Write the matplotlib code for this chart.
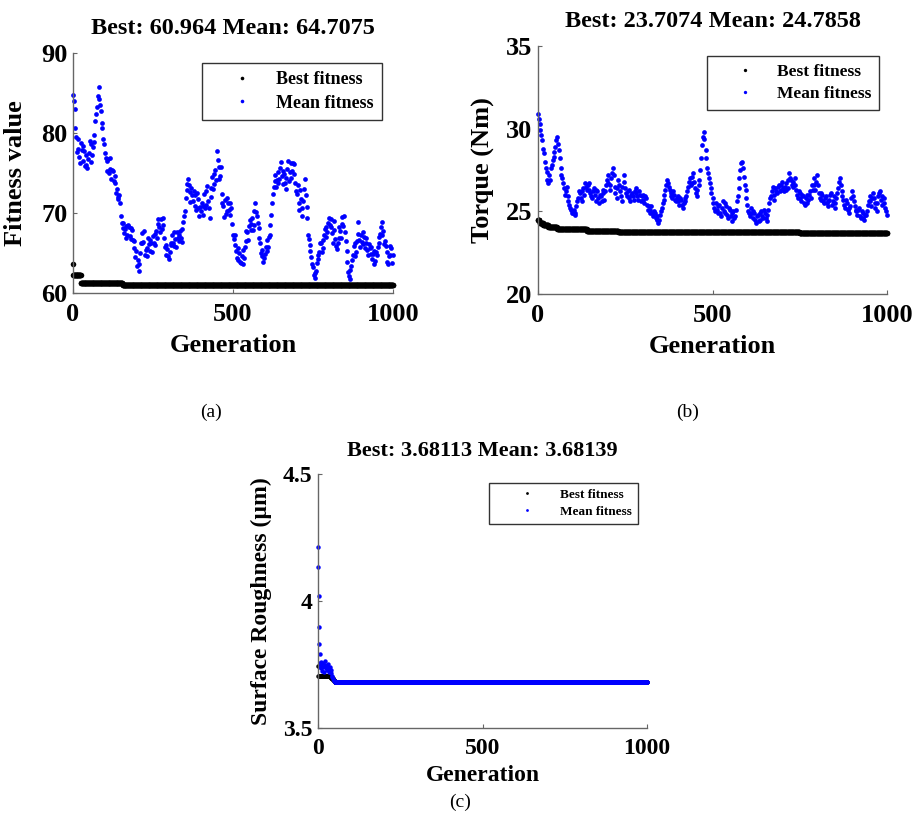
import numpy as np
import matplotlib
matplotlib.use("Agg")
import matplotlib.pyplot as plt

plt.rcParams["font.family"] = ["Liberation Serif", "DejaVu Serif"]
plt.rcParams["font.weight"] = "bold"
plt.rcParams["axes.labelweight"] = "bold"
plt.rcParams["axes.titleweight"] = "bold"

N_GEN = 1000

# ---------------- (a) Fitness value ----------------
# mean fitness sampled at generations 0, 5, 10, ...
mean_a_gen = list(range(0, 1001, 5))
mean_a = [
    84.8, 83.0, 79.5, 78.0, 77.0, 78.8, 76.5, 77.8, 76.0, 75.6,
    77.5, 78.6, 77.2, 78.9, 81.5, 83.2, 85.8, 83.5, 81.2, 79.2,
    77.5, 75.3, 76.8, 75.5, 74.2, 75.2, 73.8, 72.5, 71.8, 72.3,
    69.6, 68.1, 67.5, 68.4, 67.2, 68.2, 66.8, 67.9, 65.6, 64.5,
    63.4, 62.8, 65.0, 67.5, 66.4, 64.8, 65.6, 66.9, 65.3, 66.2,
    67.1, 66.0, 67.8, 68.6, 68.2, 69.2, 68.5, 66.9, 64.8, 65.5,
    64.2, 66.3, 67.2, 65.9, 66.8, 67.6, 66.5, 67.8, 66.4, 68.9,
    70.2, 73.6, 74.3, 72.6, 73.1, 71.5, 72.2, 70.4, 71.7, 69.6,
    70.3, 69.8, 72.4, 71.0, 73.4, 70.6, 72.0, 74.5, 73.6, 75.4,
    77.8, 75.8, 74.6, 72.4, 70.9, 71.6, 70.2, 71.3, 69.8, 70.6,
    67.3, 66.0, 65.2, 64.1, 65.0, 63.8, 65.4, 64.4, 66.5, 67.6,
    68.4, 67.9, 69.4, 68.5, 71.2, 69.6, 68.1, 66.2, 64.6, 63.9,
    64.9, 66.6, 65.8, 67.2, 69.8, 72.4, 74.0, 73.2, 75.1, 74.2,
    76.4, 73.6, 74.9, 73.0, 75.5, 74.0, 76.3, 75.2, 76.1, 73.8,
    72.4, 71.2, 72.9, 69.6, 71.5, 74.3, 70.8, 67.3, 66.0, 64.5,
    63.2, 61.9, 62.8, 64.2, 65.1, 66.3, 65.6, 67.2, 68.3, 67.6,
    69.4, 68.2, 67.5, 69.0, 66.8, 65.5, 66.9, 67.8, 69.5, 68.4,
    67.6, 65.2, 62.6, 61.8, 63.4, 64.8, 66.2, 65.1, 68.9, 66.6,
    67.3, 66.1, 67.0, 66.3, 65.4, 66.1, 64.9, 64.2, 65.3, 64.0,
    64.8, 66.2, 67.4, 68.9, 67.8, 66.5, 65.1, 63.6, 64.8, 65.6,
    64.7,
]
# mean fitness at generations 2, 7, 12, ...
mean_a_gen2 = list(range(2, 1000, 5))
mean_a2 = [
    84.0, 80.6, 77.6, 79.3, 76.2, 77.9, 78.4, 75.9, 77.3, 76.8,
    79.0, 76.4, 78.2, 79.8, 82.4, 84.6, 84.2, 82.8, 80.6, 78.6,
    76.9, 76.5, 75.0, 76.9, 75.4, 74.0, 74.6, 73.0, 72.0, 71.3,
    68.8, 68.7, 68.0, 66.9, 68.5, 67.1, 68.1, 66.6, 66.5, 65.2,
    64.1, 63.6, 66.2, 66.3, 67.8, 65.4, 64.6, 66.1, 66.6, 65.1,
    66.3, 67.4, 66.9, 69.3, 67.6, 68.0, 69.4, 65.8, 66.0, 64.6,
    65.1, 66.0, 66.3, 67.6, 65.8, 66.9, 67.2, 66.9, 68.0, 69.6,
    71.9, 72.9, 73.5, 71.4, 72.3, 72.8, 70.9, 72.5, 70.6, 70.8,
    71.3, 70.9, 70.6, 72.8, 71.5, 69.4, 73.1, 73.0, 74.9, 74.1,
    76.6, 74.2, 75.8, 71.2, 69.5, 69.9, 71.9, 70.4, 71.2, 68.6,
    66.8, 67.2, 64.4, 65.6, 63.9, 64.6, 63.6, 65.8, 67.8, 66.6,
    69.1, 68.6, 67.9, 70.2, 70.1, 68.8, 66.9, 65.0, 65.4, 64.4,
    65.7, 65.3, 67.0, 68.5, 71.2, 73.3, 74.8, 74.1, 73.8, 75.6,
    74.6, 75.3, 73.7, 74.4, 76.5, 75.1, 74.4, 76.3, 74.9, 72.8,
    73.5, 70.4, 71.8, 70.6, 73.0, 72.3, 69.4, 66.8, 65.2, 63.6,
    62.3, 62.5, 63.7, 64.8, 66.2, 65.1, 66.6, 68.0, 67.0, 68.8,
    68.5, 69.2, 66.2, 67.9, 65.9, 66.3, 68.2, 66.9, 68.6, 69.6,
    66.5, 63.9, 62.1, 62.9, 64.1, 65.9, 64.6, 66.5, 67.4, 65.8,
    66.4, 67.6, 65.6, 66.9, 64.8, 65.6, 65.8, 64.9, 63.6, 65.1,
    65.7, 67.0, 68.3, 67.3, 66.1, 65.9, 63.9, 64.6, 65.9, 63.8,
]
best_a_start = [0, 1, 25, 155, 200]
best_a_val = [63.6, 62.3, 61.22, 61.05, 60.964]

# ---------------- (b) Torque ----------------
mean_b_gen = list(range(0, 1001, 5))
mean_b = [
    30.9, 30.3, 29.6, 28.8, 28.0, 27.4, 26.7, 26.9, 27.8, 28.3,
    28.9, 29.5, 28.7, 27.6, 27.0, 26.4, 26.2, 25.9, 25.4, 25.1,
    24.9, 24.8, 25.3, 25.8, 26.1, 25.6, 26.4, 26.7, 26.3, 26.7,
    26.1, 25.8, 26.4, 25.6, 26.2, 25.5, 25.9, 26.3, 25.7, 26.6,
    27.2, 26.3, 27.0, 27.6, 26.5, 25.8, 26.9, 26.2, 25.6, 27.2,
    26.4, 25.9, 26.3, 25.6, 26.1, 25.7, 26.4, 25.9, 26.2, 25.6,
    26.0, 25.5, 25.8, 25.1, 24.9, 25.3, 24.7, 24.9, 24.5, 24.3,
    24.8, 25.2, 25.7, 26.3, 26.9, 26.5, 26.1, 25.8, 26.0, 25.6,
    25.9, 25.4, 25.7, 25.2, 25.6, 25.9, 26.5, 27.0, 26.7, 27.3,
    26.4, 25.9, 26.6, 27.5, 29.0, 29.8, 28.7, 27.6, 27.0, 26.4,
    25.8, 25.2, 25.5, 24.9, 25.4, 24.7, 25.6, 24.9, 25.3, 24.6,
    25.1, 24.4, 25.0, 24.7, 25.6, 26.4, 27.5, 28.0, 27.1, 26.3,
    25.4, 24.9, 25.2, 24.6, 24.9, 24.3, 24.8, 24.5, 25.0, 24.6,
    24.9, 24.4, 25.1, 25.8, 26.2, 25.7, 26.4, 26.1, 26.6, 26.3,
    26.8, 26.2, 26.7, 26.4, 27.3, 26.9, 26.5, 27.0, 26.3, 25.8,
    26.1, 25.6, 25.9, 25.4, 26.0, 25.7, 26.2, 26.6, 27.0, 26.3,
    27.2, 26.1, 25.7, 26.0, 25.5, 25.9, 25.3, 25.7, 26.1, 25.6,
    25.2, 25.8, 26.4, 27.0, 26.2, 25.7, 25.2, 25.5, 24.9, 25.3,
    26.2, 25.6, 25.1, 24.8, 25.2, 24.6, 24.9, 24.5, 24.8, 25.4,
    25.9, 25.3, 26.1, 25.5, 25.0, 25.9, 26.2, 25.4, 25.8, 25.2,
    24.8,
]
mean_b_gen2 = list(range(2, 1000, 5))
mean_b2 = [
    30.6, 29.9, 29.3, 28.5, 27.6, 26.9, 27.2, 27.6, 28.1, 28.6,
    29.3, 29.1, 28.2, 27.2, 26.7, 26.0, 26.5, 25.6, 25.2, 24.9,
    25.1, 24.9, 25.6, 26.2, 25.8, 26.2, 26.0, 26.5, 26.6, 26.3,
    25.9, 26.2, 26.0, 26.3, 25.8, 26.0, 25.6, 26.1, 26.2, 26.9,
    26.7, 26.6, 27.3, 27.2, 26.1, 26.4, 26.6, 25.9, 26.5, 26.8,
    26.1, 26.2, 25.8, 26.0, 25.9, 26.2, 26.1, 25.7, 26.0, 25.9,
    25.7, 25.9, 25.4, 25.3, 25.1, 24.9, 25.0, 24.6, 24.7, 24.5,
    25.0, 25.5, 26.0, 26.6, 26.7, 26.3, 25.9, 26.2, 25.7, 25.8,
    25.6, 25.8, 25.4, 25.5, 25.8, 26.2, 26.8, 26.6, 27.1, 26.8,
    26.1, 26.3, 26.9, 28.2, 29.5, 29.4, 28.2, 27.3, 26.7, 26.1,
    25.5, 25.0, 25.1, 25.3, 24.9, 25.2, 25.0, 25.5, 24.8, 25.2,
    24.7, 24.9, 24.6, 25.1, 25.9, 27.0, 27.9, 27.6, 26.6, 25.8,
    25.0, 24.7, 24.9, 25.0, 24.5, 24.7, 24.4, 24.9, 24.7, 25.1,
    24.6, 24.8, 25.5, 25.9, 26.5, 26.0, 26.2, 26.5, 26.2, 26.6,
    26.4, 26.5, 26.3, 26.9, 27.0, 26.6, 26.8, 26.6, 26.0, 26.2,
    25.8, 26.0, 25.5, 25.8, 25.5, 26.0, 25.8, 26.3, 26.6, 26.8,
    26.6, 25.8, 26.1, 25.6, 25.8, 25.5, 25.6, 26.0, 25.4, 25.9,
    25.5, 26.1, 26.8, 26.6, 25.9, 25.4, 25.7, 25.1, 25.2, 25.8,
    25.9, 25.3, 25.0, 25.1, 24.7, 25.0, 24.6, 24.8, 25.0, 25.6,
    25.6, 25.8, 25.8, 25.2, 25.5, 26.1, 25.7, 25.9, 25.5, 25.0,
]
best_b_start = [0, 5, 15, 30, 55, 140, 230, 750]
best_b_val = [24.45, 24.3, 24.15, 24.05, 23.92, 23.8, 23.74, 23.7074]

# ---------------- (c) Surface roughness ----------------
mean_c_gen = [0, 1, 2, 3, 4, 5, 6, 7, 8, 9, 10, 12, 14, 16, 18, 20, 22, 24,
              26, 28, 30, 32, 34, 36, 38, 40, 42, 44, 46, 48, 50, 52]
mean_c = [4.211, 4.135, 4.021, 3.896, 3.829, 3.791, 3.755, 3.742, 3.760,
          3.735, 3.748, 3.726, 3.755, 3.739, 3.722, 3.748, 3.762, 3.735,
          3.744, 3.728, 3.752, 3.738, 3.721, 3.742, 3.729, 3.715, 3.706,
          3.699, 3.692, 3.688, 3.684, 3.682]
mean_c_final_start = 53
mean_c_final = 3.68139
best_c_start = [0, 1, 39, 46, 51]
best_c_val = [3.745, 3.703, 3.695, 3.688, 3.68113]


def step_series(starts, vals, last=N_GEN):
    ends = starts[1:] + [last + 1]
    counts = [e - s for s, e in zip(starts, ends)]
    return np.arange(starts[0], last + 1), np.repeat(vals, counts)


fig = plt.figure(figsize=(9.15, 8.17), dpi=100)
W, H = 915, 817


def add_axes(left, top, right, bottom):
    return fig.add_axes([left / W, 1 - bottom / H, (right - left) / W, (bottom - top) / H])


def style(ax, ylim, yticks, yticklabels, ylabel, ylabel_x, title, title_pad,
          fs_tick, fs_label, fs_title, xlabel_y):
    ax.set_xlim(0, 1000)
    ax.set_ylim(*ylim)
    ax.set_xticks([0, 500, 1000])
    ax.set_xticklabels(["0", "500", "1000"])
    ax.set_yticks(yticks)
    ax.set_yticklabels(yticklabels)
    for s in ["top", "right"]:
        ax.spines[s].set_visible(False)
    for s in ["left", "bottom"]:
        ax.spines[s].set_color("#666666")
        ax.spines[s].set_linewidth(1.0)
    ax.tick_params(direction="in", length=3, width=0.8, color="#666666",
                   labelsize=fs_tick)
    ax.tick_params(axis="x", pad=7)
    ax.tick_params(axis="y", pad=4)
    ax.set_ylabel(ylabel, fontsize=fs_label)
    ax.yaxis.set_label_coords(ylabel_x, 0.5)
    ax.set_xlabel("Generation", fontsize=fs_label)
    ax.xaxis.set_label_coords(0.5, xlabel_y)
    ax.set_title(title, fontsize=fs_title, pad=title_pad)


def legend(ax, anchor, fs, hl, ms):
    h1, = ax.plot([], [], "o", color="black", ms=ms, mew=0)
    h2, = ax.plot([], [], "o", color="blue", ms=ms, mew=0)
    lg = ax.legend([h1, h2], ["Best fitness", "Mean fitness"], loc="upper right",
                   bbox_to_anchor=anchor, borderaxespad=0, fontsize=fs,
                   handlelength=hl, handletextpad=0.15, frameon=True,
                   fancybox=False, edgecolor="#333333", framealpha=1,
                   borderpad=0.45, labelspacing=0.35)
    lg.get_frame().set_linewidth(1.0)


def draw_mean(ax, gens_list, vals_list, ms):
    for gens, vals in zip(gens_list, vals_list):
        ax.plot(gens, vals, "o", color="blue", ms=ms, mew=0, clip_on=False)


# (a)
ax = add_axes(73, 53, 393, 293)
g, v = step_series(best_a_start, best_a_val)
ax.plot(g, v, "o", color="black", ms=4.0, mew=0, clip_on=False)
draw_mean(ax, [mean_a_gen, mean_a_gen2], [mean_a, mean_a2], 3.4)
style(ax, (60, 90), [60, 70, 80, 90], ["60", "70", "80", "90"], "Fitness value",
      -0.145, "Best: 60.964 Mean: 64.7075", 14, 19, 19, 17.5, -0.17)
legend(ax, (0.966, 0.958), 13, 3.5, 2.6)

# (b)
ax = add_axes(538, 46, 887, 294)
g, v = step_series(best_b_start, best_b_val)
ax.plot(g, v, "o", color="black", ms=4.0, mew=0, clip_on=False)
draw_mean(ax, [mean_b_gen, mean_b_gen2], [mean_b, mean_b2], 3.4)
style(ax, (20, 35), [20, 25, 30, 35], ["20", "25", "30", "35"], "Torque (Nm)",
      -0.123, "Best: 23.7074 Mean: 24.7858", 13.5, 19, 19, 17.5, -0.165)
legend(ax, (0.977, 0.960), 12.5, 3.4, 2.4)

# (c)
ax = add_axes(318, 474, 647, 728)
g, v = step_series(best_c_start, best_c_val)
ax.plot(g, v, "o", color="black", ms=3.2, mew=0, clip_on=False)
gc = list(mean_c_gen) + list(range(mean_c_final_start, N_GEN + 1))
vc = list(mean_c) + [mean_c_final] * (N_GEN + 1 - mean_c_final_start)
ax.plot(gc, vc, "o", color="blue", ms=3.2, mew=0, clip_on=False)
style(ax, (3.5, 4.5), [3.5, 4.0, 4.5], ["3.5", "4", "4.5"],
      "Surface Roughness (\u00b5m)", -0.14, "Best: 3.68113 Mean: 3.68139", 13,
      17, 17, 16, -0.145)
legend(ax, (0.973, 0.965), 9.5, 4.8, 2.0)

# panel captions
fig.text(211 / W, 1 - 412 / H, "(a)", ha="center", va="center", fontsize=14,
         fontweight="normal")
fig.text(688 / W, 1 - 412 / H, "(b)", ha="center", va="center", fontsize=14,
         fontweight="normal")
fig.text(460 / W, 1 - 802 / H, "(c)", ha="center", va="center", fontsize=14,
         fontweight="normal")

fig.savefig("out.png", dpi=100)
